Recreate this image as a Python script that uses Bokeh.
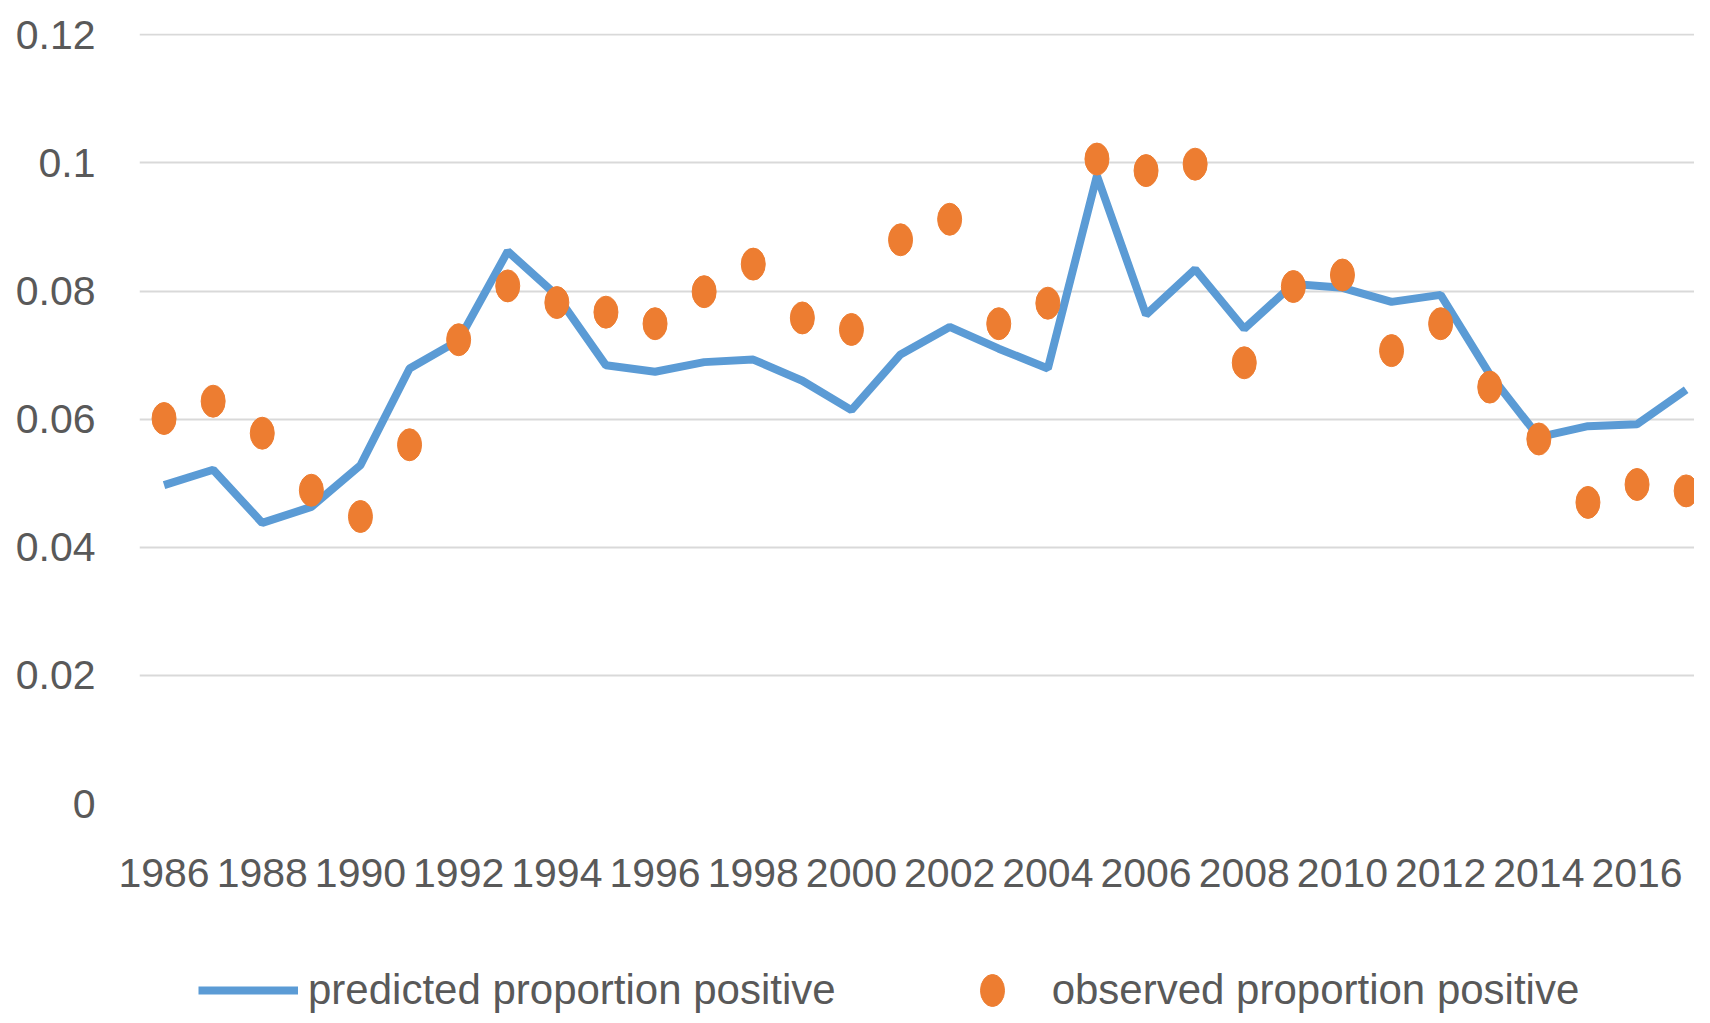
from bokeh.plotting import figure
from bokeh.layouts import column
from bokeh.models import Range1d, FixedTicker, Legend, LegendItem, ColumnDataSource
from bokeh.embed import file_html
from bokeh.resources import INLINE

years = list(range(1986, 2018))
predicted = [0.0497, 0.0521, 0.0438, 0.0463, 0.0528, 0.0679, 0.0723, 0.0862, 0.0793, 0.0684,
             0.0674, 0.0689, 0.0693, 0.0660, 0.0614, 0.0701, 0.0744, 0.0710, 0.0679, 0.0980,
             0.0763, 0.0834, 0.0741, 0.0811, 0.0805, 0.0783, 0.0794, 0.0670, 0.0572, 0.0589,
             0.0592, 0.0646]
observed = [0.0601, 0.0628, 0.0578, 0.0489, 0.0448, 0.0560, 0.0724, 0.0808, 0.0782, 0.0767,
            0.0749, 0.0799, 0.0842, 0.0758, 0.0740, 0.0880, 0.0912, 0.0749, 0.0781, 0.1006,
            0.0988, 0.0998, 0.0688, 0.0807, 0.0825, 0.0707, 0.0749, 0.0650, 0.0569, 0.0470,
            0.0498, 0.0488]
y_ticks = [0, 0.02, 0.04, 0.06, 0.08, 0.1, 0.12]
y_tick_labels = ["0", "0.02", "0.04", "0.06", "0.08", "0.1", "0.12"]
x_ticks = list(range(1986, 2017, 2))
series_labels = ["predicted proportion positive", "observed proportion positive"]

FONT = "Liberation Sans"
TXT = "#595959"
LINE_C = "#5B9BD5"
DOT_C = "#ED7D31"

src = ColumnDataSource(dict(year=years, predicted=predicted, observed=observed))

p = figure(width=1694, height=900, output_backend="svg", toolbar_location=None,
           x_range=Range1d(1985.5, 2017.17), y_range=Range1d(0, 0.1202),
           min_border_left=139, min_border_right=0, min_border_top=33, min_border_bottom=97)
p.outline_line_color = None
p.xgrid.grid_line_color = None
p.ygrid.grid_line_color = "#d9d9d9"
p.ygrid.grid_line_width = 2
p.ygrid.ticker = FixedTicker(ticks=y_ticks)

p.yaxis.ticker = FixedTicker(ticks=y_ticks)
p.yaxis.major_label_overrides = {t: l for t, l in zip(y_ticks, y_tick_labels)}
p.xaxis.ticker = FixedTicker(ticks=x_ticks)
p.xaxis.major_label_overrides = {t: str(t) for t in x_ticks}
for ax in (p.xaxis, p.yaxis):
    ax.axis_line_color = None
    ax.major_tick_line_color = None
    ax.minor_tick_line_color = None
    ax.major_label_text_font = FONT
    ax.major_label_text_font_size = "41px"
    ax.major_label_text_color = TXT
p.yaxis.major_label_standoff = 38
p.xaxis.major_label_standoff = 49

p.line("year", "predicted", source=src, line_color=LINE_C, line_width=8)
p.ellipse("year", "observed", source=src, width=24, height=32,
          width_units="screen", height_units="screen",
          fill_color=DOT_C, line_color=DOT_C)

# legend strip below the chart (same series, drawn out of view so only the legend shows)
lg = figure(width=1694, height=115, output_backend="svg", toolbar_location=None,
            x_range=Range1d(1985.5, 2017.17), y_range=Range1d(1, 2),
            x_axis_location=None, y_axis_location=None,
            min_border_left=0, min_border_right=0, min_border_top=0, min_border_bottom=0)
lg.outline_line_color = None
lg.grid.grid_line_color = None
lr = lg.line("year", "predicted", source=src, line_color=LINE_C, line_width=8)
dr = lg.ellipse("year", "observed", source=src, width=24, height=32,
                width_units="screen", height_units="screen",
                fill_color=DOT_C, line_color=DOT_C)
legend = Legend(items=[LegendItem(label=series_labels[0], renderers=[lr]),
                       LegendItem(label=series_labels[1], renderers=[dr])],
                orientation="horizontal", location=(59, 1),
                label_text_font=FONT, label_text_font_size="42px", label_text_color=TXT,
                glyph_width=100, glyph_height=40, label_standoff=10, spacing=106,
                border_line_color=None, background_fill_alpha=0, padding=0, margin=0)
lg.add_layout(legend, "center")

open("out.html", "w").write(file_html(column(p, lg), INLINE))
